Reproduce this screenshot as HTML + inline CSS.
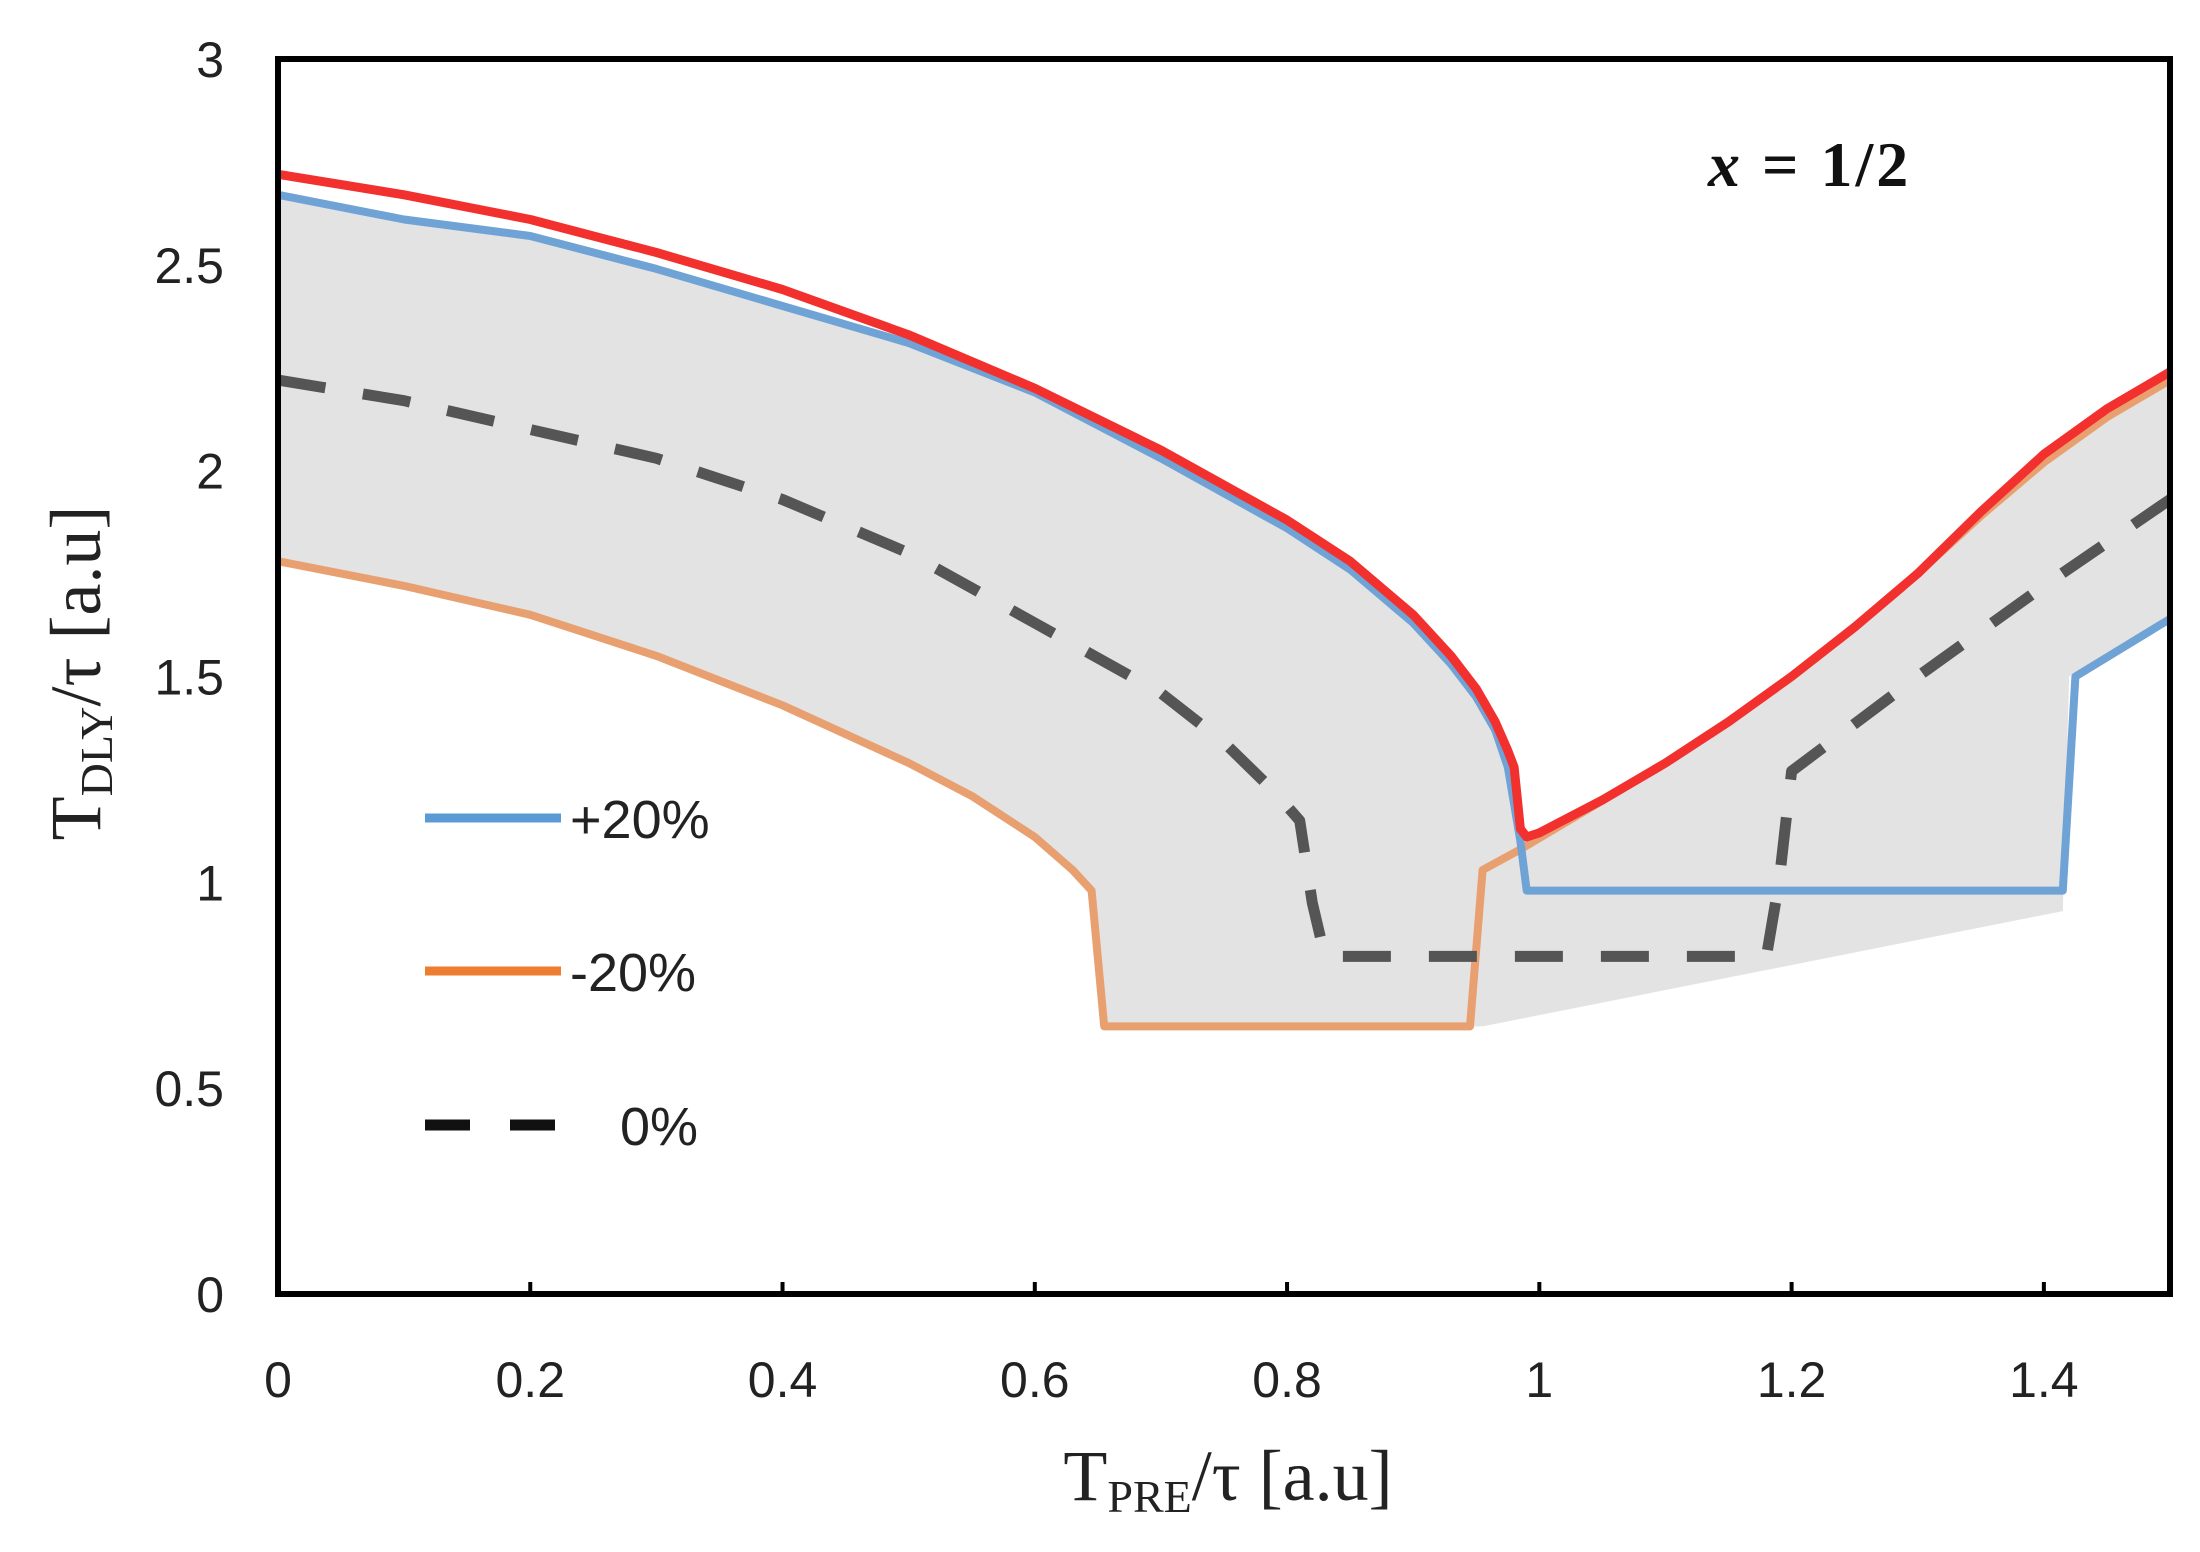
<!DOCTYPE html>
<html><head><meta charset="utf-8"><style>
html,body{margin:0;padding:0;background:#fff;}
svg{display:block;}
</style></head><body>
<svg id="chart" width="2200" height="1552" viewBox="0 0 2200 1552" xmlns="http://www.w3.org/2000/svg">
<g id="fill-layer"></g>
<g id="series-layer"></g>
<rect x="278" y="59" width="1892" height="1235" fill="none" stroke="#000" stroke-width="6"/>
<g id="axis-layer" font-family="'Liberation Sans', sans-serif" font-size="50" fill="#222"></g>
<text transform="translate(100,673) rotate(-90)" text-anchor="middle" font-family="'Liberation Serif', serif" font-size="72" fill="#222">T<tspan font-size="46" dy="12">DLY</tspan><tspan dy="-12">/τ [a.u]</tspan></text>
<text x="1228" y="1500" text-anchor="middle" font-family="'Liberation Serif', serif" font-size="72" fill="#222">T<tspan font-size="46" dy="12">PRE</tspan><tspan dy="-12">/τ [a.u]</tspan></text>
<text x="1708" y="186" font-family="'Liberation Serif', serif" font-size="64" font-weight="bold" fill="#111" letter-spacing="3"><tspan font-style="italic">x</tspan> = 1/2</text>
<g font-family="'Liberation Sans', sans-serif" font-size="54" fill="#222">
<line x1="425" y1="818" x2="561" y2="818" stroke="#5b9bd5" stroke-width="9"/>
<text x="570" y="838">+20%</text>
<line x1="425" y1="971" x2="561" y2="971" stroke="#ed7d31" stroke-width="9"/>
<text x="570" y="991">-20%</text>
<line x1="425" y1="1125" x2="561" y2="1125" stroke="#111" stroke-width="11" stroke-dasharray="45,40"/>
<text x="620" y="1145">0%</text>
</g>
</svg>
<script>
const xTicks=[0,0.2,0.4,0.6,0.8,1,1.2,1.4];
const xTickLabels=["0","0.2","0.4","0.6","0.8","1","1.2","1.4"];
const yTicks=[0,0.5,1,1.5,2,2.5,3];
const yTickLabels=["0","0.5","1","1.5","2","2.5","3"];
const redX=[0,0.1,0.2,0.3,0.4,0.5,0.6,0.7,0.8,0.85,0.9,0.93,0.95,0.965,0.975,0.98,0.985,0.99,1.0,1.05,1.1,1.15,1.2,1.25,1.3,1.35,1.4,1.45,1.5];
const redY=[2.72,2.67,2.61,2.53,2.44,2.33,2.2,2.05,1.88,1.78,1.65,1.55,1.47,1.39,1.32,1.28,1.13,1.11,1.12,1.2,1.29,1.39,1.5,1.62,1.75,1.9,2.04,2.15,2.24];
const blueX=[0,0.1,0.2,0.3,0.4,0.5,0.6,0.7,0.8,0.85,0.9,0.93,0.95,0.965,0.975,0.985,0.99,1.0,1.415,1.425,1.5];
const blueY=[2.67,2.61,2.57,2.49,2.4,2.31,2.19,2.03,1.86,1.76,1.63,1.53,1.45,1.37,1.28,1.1,0.98,0.98,0.98,1.5,1.64];
const orangeX=[0,0.1,0.2,0.3,0.4,0.5,0.55,0.6,0.63,0.645,0.655,0.945,0.955,0.985,1.1,1.15,1.2,1.25,1.3,1.35,1.4,1.45,1.5];
const orangeY=[1.78,1.72,1.65,1.55,1.43,1.29,1.21,1.11,1.03,0.98,0.65,0.65,1.03,1.08,1.29,1.39,1.5,1.62,1.75,1.89,2.02,2.13,2.22];
const zeroX=[0,0.1,0.2,0.3,0.4,0.5,0.6,0.7,0.75,0.79,0.81,0.82,0.83,0.84,1.18,1.19,1.2,1.3,1.4,1.5];
const zeroY=[2.22,2.17,2.1,2.03,1.93,1.8,1.63,1.46,1.34,1.22,1.15,0.95,0.82,0.82,0.82,1.0,1.27,1.5,1.72,1.93];
const lowerX=[0.955,1.415,1.42];
const lowerY=[0.65,0.93,1.5];
const X0=278,X1=2170,Y0=1294,Y1=59;
const sx=v=>X0+v/1.5*(X1-X0);
const sy=v=>Y0-v/3*(Y0-Y1);
const NS="http://www.w3.org/2000/svg";
const mk=(t,a,p)=>{const e=document.createElementNS(NS,t);for(const k in a)e.setAttribute(k,a[k]);p.appendChild(e);return e;};
const pts=(xs,ys)=>xs.map((x,i)=>sx(x).toFixed(1)+","+sy(ys[i]).toFixed(1));
const axis=document.getElementById('axis-layer');
xTicks.forEach((t,i)=>{
  const tk=mk('line',{x1:sx(t),x2:sx(t),y1:Y0,y2:Y0-12,stroke:'#000','stroke-width':4},axis);
  
  
  const tx=mk('text',{x:sx(t),y:1397,'text-anchor':'middle'},axis);tx.textContent=xTickLabels[i];
  
  
});
yTicks.forEach((t,i)=>{
  const tx=mk('text',{x:224,y:sy(t)+18,'text-anchor':'end'},axis);tx.textContent=yTickLabels[i];
  
  
});
const fl=document.getElementById('fill-layer');
const upper=pts(blueX.slice(0,16),blueY.slice(0,16)).concat(pts(redX.slice(17),redY.slice(17)));
const lowIdx=orangeX.indexOf(0.945);
const lower=pts(orangeX.slice(0,lowIdx+1),orangeY.slice(0,lowIdx+1)).concat(pts(lowerX,lowerY)).concat(pts([1.5],[blueY[blueY.length-1]]));
const band=mk('polygon',{points:upper.concat(lower.reverse()).join(' '),fill:'#e3e3e3'},fl);


const sl=document.getElementById('series-layer');
const o=mk('polyline',{points:pts(orangeX,orangeY).join(' '),fill:'none',stroke:'#e9a070','stroke-width':8,'stroke-linejoin':'round'},sl);


const b=mk('polyline',{points:pts(blueX,blueY).join(' '),fill:'none',stroke:'#6fa3d6','stroke-width':8,'stroke-linejoin':'round'},sl);


const z=mk('polyline',{points:pts(zeroX,zeroY).join(' '),fill:'none',stroke:'#555','stroke-width':11,'stroke-dasharray':'48,38','stroke-linejoin':'round'},sl);


const r=mk('polyline',{points:pts(redX,redY).join(' '),fill:'none',stroke:'#f2302e','stroke-width':9,'stroke-linejoin':'round'},sl);


</script>
</body></html>
